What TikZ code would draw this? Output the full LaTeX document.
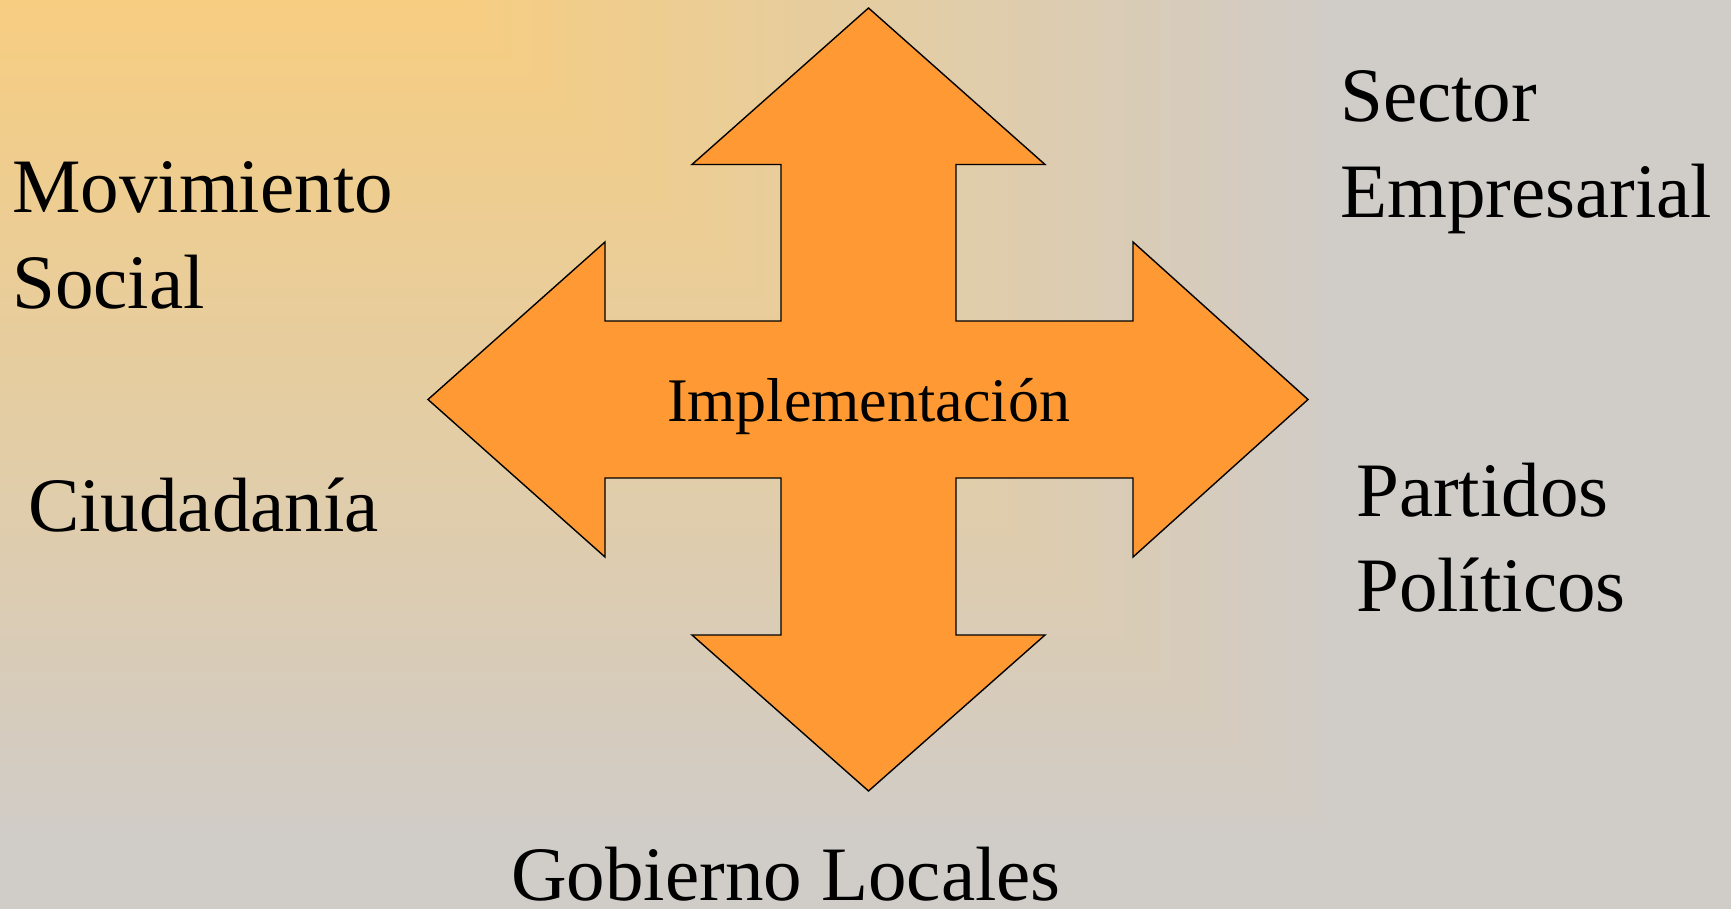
\documentclass[tikz,border=0pt]{standalone}
\usepackage{fontspec}
\setmainfont{Liberation Serif}
\definecolor{bgyellow}{RGB}{247,205,128}
\definecolor{bggray}{RGB}{208,204,200}
\definecolor{arroworange}{RGB}{255,153,51}
\tikzset{
  bigtext/.style={inner sep=0pt, anchor=base west, align=left, font=\fontsize{77}{95.5}\selectfont},
  arrowshape/.style={fill=arroworange, draw=black, line width=1.4pt, line join=miter},
}
\begin{document}
\begin{tikzpicture}[x=1pt,y=-1pt]
\useasboundingbox (0,0) rectangle (1731,909);
% background gradient from the top-left corner
\fill[bggray] (0,0) rectangle (1731,909);
\foreach \i [evaluate=\i as \j using int(100-\i)] in {99,98,...,1}
  \fill[bgyellow!\j!bggray] (0,0) rectangle ({450+9*\i},{8.5*\i});
% four-way arrow
\coordinate (c) at (868.5,399.5);
\draw[arrowshape] (868.5,8) -- (1045,164.5) -- (956,164.5) -- (956,321)
  -- (1133,321) -- (1133,242) -- (1308,399.5) -- (1133,557) -- (1133,478)
  -- (956,478) -- (956,635) -- (1045,635) -- (868.5,791) -- (692,635)
  -- (781,635) -- (781,478) -- (605,478) -- (605,557) -- (428,399.5)
  -- (605,242) -- (605,321) -- (781,321) -- (781,164.5) -- (692,164.5) -- cycle;
\node[inner sep=0pt, anchor=base, font=\fontsize{62}{74}\selectfont] (impl) at (868.5,421.4) {Implementación};
% actors (anchor = baseline of the last line)
\node[bigtext] (mov) at (12,308) {Movimiento\\Social};
\node[bigtext] (ciu) at (28,531) {Ciudadanía};
\node[bigtext] (sec) at (1340,217.3) {Sector\\Empresarial};
\node[bigtext] (par) at (1356,611.7) {Partidos\\Políticos};
\node[bigtext] (gob) at (511,900) {Gobierno Locales};
\end{tikzpicture}
\end{document}
